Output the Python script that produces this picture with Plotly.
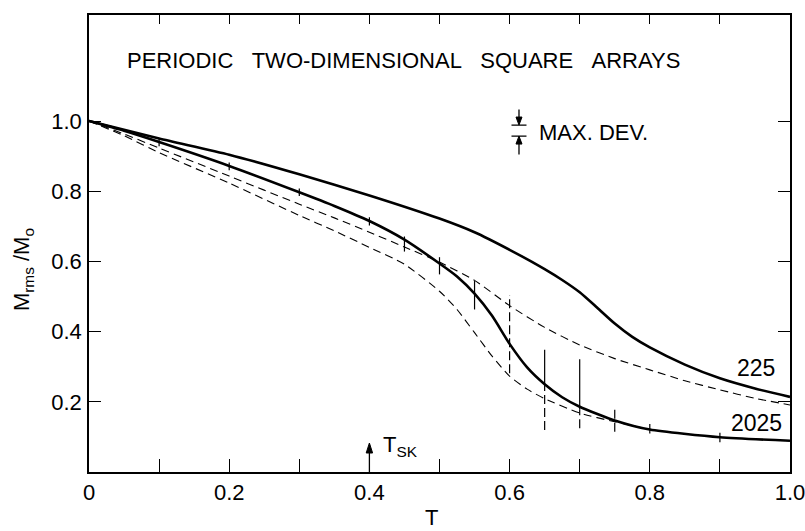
import plotly.graph_objects as go

# ---------------- data ----------------
T_225_mc = [0, 0.1, 0.2, 0.3, 0.4, 0.5, 0.55, 0.6, 0.65, 0.675, 0.7, 0.725, 0.75, 0.775, 0.8, 0.85, 0.9, 0.95, 1.0]
M_225_mc = [1.0, 0.95, 0.904, 0.848, 0.788, 0.722, 0.683, 0.633, 0.578, 0.547, 0.512, 0.468, 0.423, 0.385, 0.355, 0.306, 0.267, 0.238, 0.214]

T_2025_mc = [0, 0.05, 0.1, 0.2, 0.3, 0.35, 0.4, 0.45, 0.5, 0.525, 0.55, 0.575, 0.6, 0.625, 0.65, 0.675, 0.7, 0.75, 0.8, 0.9, 1.0]
M_2025_mc = [1.0, 0.972, 0.940, 0.872, 0.797, 0.758, 0.715, 0.662, 0.594, 0.557, 0.508, 0.445, 0.365, 0.298, 0.250, 0.213, 0.186, 0.147, 0.121, 0.099, 0.089]

T_225_dash = [0, 0.05, 0.1, 0.2, 0.3, 0.35, 0.4, 0.45, 0.5, 0.55, 0.6, 0.65, 0.7, 0.75, 0.8, 0.85, 0.9, 0.95, 1.0]
M_225_dash = [1.0, 0.963, 0.923, 0.843, 0.763, 0.724, 0.683, 0.641, 0.598, 0.546, 0.474, 0.412, 0.362, 0.323, 0.291, 0.260, 0.234, 0.210, 0.191]

T_2025_dash = [0, 0.05, 0.1, 0.2, 0.3, 0.35, 0.4, 0.45, 0.5, 0.525, 0.55, 0.575, 0.6, 0.625, 0.65, 0.7, 0.75, 0.8]
M_2025_dash = [1.0, 0.958, 0.91, 0.823, 0.731, 0.687, 0.640, 0.592, 0.515, 0.463, 0.397, 0.330, 0.273, 0.236, 0.209, 0.168, 0.143, 0.121]

# deviation bars
bar_solid_T = [0.1, 0.2, 0.3, 0.4, 0.45, 0.5, 0.55, 0.65, 0.7, 0.8, 0.9]
bar_solid_lo = [0.928, 0.86, 0.786, 0.702, 0.628, 0.563, 0.463, 0.239, 0.179, 0.110, 0.085]
bar_solid_hi = [0.950, 0.882, 0.808, 0.726, 0.671, 0.612, 0.544, 0.348, 0.321, 0.137, 0.112]
bar_dash_T = [0.6, 0.65, 0.7, 0.75]
bar_dash_lo = [0.281, 0.12, 0.125, 0.115]
bar_dash_hi = [0.504, 0.239, 0.179, 0.179]

x_ticks = [0, 0.1, 0.2, 0.3, 0.4, 0.5, 0.6, 0.7, 0.8, 0.9, 1.0]
x_ticktext = ["0", "", "0.2", "", "0.4", "", "0.6", "", "0.8", "", "1.0"]
x_top_ticks = [0.1, 0.2, 0.3, 0.4, 0.5, 0.6, 0.7, 0.8, 0.9]
y_ticks = [0.2, 0.4, 0.6, 0.8, 1.0]
y_ticktext = ["0.2", "0.4", "0.6", "0.8", "1.0"]

T_SK = 0.4
labels_N = ["225", "2025"]
NB = "\u00a0"
TITLE = "PERIODIC" + NB * 3 + "TWO-DIMENSIONAL" + NB * 3 + "SQUARE" + NB * 3 + "ARRAYS"

FONT = "Liberation Sans, Arial, sans-serif"
Y_MAX = 1.302


def segments(ts, los, his):
    xs, ys = [], []
    for t, lo, hi in zip(ts, los, his):
        xs += [t, t, None]
        ys += [lo, hi, None]
    return xs, ys


fig = go.Figure()

dash_line = dict(color="black", width=1.1, dash="8px,5px", shape="spline", smoothing=0.6)
solid_line = dict(color="black", width=2.6, shape="spline", smoothing=0.6)

fig.add_trace(go.Scatter(x=T_225_dash, y=M_225_dash, mode="lines", line=dash_line,
                         showlegend=False, hoverinfo="skip"))
fig.add_trace(go.Scatter(x=T_2025_dash, y=M_2025_dash, mode="lines", line=dash_line,
                         showlegend=False, hoverinfo="skip"))
fig.add_trace(go.Scatter(x=T_225_mc, y=M_225_mc, mode="lines", line=solid_line,
                         showlegend=False, hoverinfo="skip"))
fig.add_trace(go.Scatter(x=T_2025_mc, y=M_2025_mc, mode="lines", line=solid_line,
                         showlegend=False, hoverinfo="skip"))

bx, by = segments(bar_solid_T, bar_solid_lo, bar_solid_hi)
fig.add_trace(go.Scatter(x=bx, y=by, mode="lines", line=dict(color="black", width=1.2),
                         showlegend=False, hoverinfo="skip"))
bx, by = segments(bar_dash_T, bar_dash_lo, bar_dash_hi)
fig.add_trace(go.Scatter(x=bx, y=by, mode="lines", line=dict(color="black", width=1.2, dash="9px,4px"),
                         showlegend=False, hoverinfo="skip"))

# invisible trace so the mirror axes (ticks only) are drawn
fig.add_trace(go.Scatter(x=[0, 1], y=[0, Y_MAX], xaxis="x2", yaxis="y2", mode="markers",
                         marker=dict(opacity=0), showlegend=False, hoverinfo="skip"))

tick_style = dict(ticks="inside", tickwidth=1.3, tickcolor="black", showgrid=False, zeroline=False,
                  automargin=False)

fig.update_layout(
    width=805, height=531,
    margin=dict(l=89, r=15, t=15, b=59, autoexpand=False),
    paper_bgcolor="white", plot_bgcolor="white",
    font=dict(family=FONT, size=22, color="black"),
    xaxis=dict(range=[0, 1], tickvals=x_ticks, ticktext=x_ticktext, ticklen=13,
               showline=True, linewidth=1.5, linecolor="black", mirror=True,
               ticklabelstandoff=0, ticklabeloverflow="allow", tickfont=dict(size=22), **tick_style),
    yaxis=dict(range=[0, Y_MAX], tickvals=y_ticks, ticktext=y_ticktext, ticklen=12,
               showline=True, linewidth=1.5, linecolor="black", mirror=True,
               ticklabelstandoff=1, tickfont=dict(size=22), **tick_style),
    xaxis2=dict(range=[0, 1], overlaying="x", side="top", tickvals=x_top_ticks, ticklen=9,
                showticklabels=False, showline=False, **tick_style),
    yaxis2=dict(range=[0, Y_MAX], overlaying="y", side="right", tickvals=y_ticks, ticklen=12,
                showticklabels=False, showline=False, **tick_style),
)

ann = [
    dict(text=TITLE, xref="paper", yref="paper", x=0.051, y=0.9015, xanchor="left", yanchor="middle",
         showarrow=False, font=dict(size=22)),
    dict(text="M<sub>rms</sub> /M<sub>o</sub>", xref="paper", yref="paper", x=-0.094, y=0.442,
         textangle=-90, xanchor="center", yanchor="middle", showarrow=False, font=dict(size=22)),
    dict(text="T", xref="paper", yref="paper", x=0.489, y=-0.1, xanchor="center", yanchor="middle",
         showarrow=False, font=dict(size=22)),
    dict(text=labels_N[0], x=0.952, y=0.296, xanchor="center", yanchor="middle", showarrow=False,
         font=dict(size=23)),
    dict(text=labels_N[1], x=0.952, y=0.139, xanchor="center", yanchor="middle", showarrow=False,
         font=dict(size=23)),
    dict(text="MAX. DEV.", x=0.639, y=0.968, xanchor="left", yanchor="middle", showarrow=False,
         font=dict(size=22)),
    dict(text="T<sub>SK</sub>", x=T_SK + 0.016, y=0.073, xanchor="left", yanchor="middle",
         showarrow=False, font=dict(size=22)),
]
fig.update_layout(annotations=ann)

blk = dict(color="black", width=1.3)
# T_SK arrow (pixel-sized, anchored at T_SK on the axis)
fig.add_shape(type="path", xref="x", yref="y", xsizemode="pixel", ysizemode="pixel",
              xanchor=T_SK, yanchor=0, path="M0,0 L0,21", line=blk)
fig.add_shape(type="path", xref="x", yref="y", xsizemode="pixel", ysizemode="pixel",
              xanchor=T_SK, yanchor=0, path="M0,29 L-3.2,19 L3.2,19 Z", line=dict(color="black", width=1),
              fillcolor="black")
# MAX. DEV. glyph
MD_X, MD_Y = 0.6134, 0.9728
fig.add_shape(type="path", xref="x", yref="y", xsizemode="pixel", ysizemode="pixel",
              xanchor=MD_X, yanchor=MD_Y,
              path="M-7.5,5.5 L7.5,5.5 M-7.5,-5.5 L7.5,-5.5 M0,21 L0,12 M0,-24 L0,-12", line=blk)
fig.add_shape(type="path", xref="x", yref="y", xsizemode="pixel", ysizemode="pixel",
              xanchor=MD_X, yanchor=MD_Y, path="M0,5.5 L-3,13.5 L3,13.5 Z",
              line=dict(color="black", width=1), fillcolor="black")
fig.add_shape(type="path", xref="x", yref="y", xsizemode="pixel", ysizemode="pixel",
              xanchor=MD_X, yanchor=MD_Y, path="M0,-5.5 L-3,-13.5 L3,-13.5 Z",
              line=dict(color="black", width=1), fillcolor="black")

fig.write_html("out.html")
